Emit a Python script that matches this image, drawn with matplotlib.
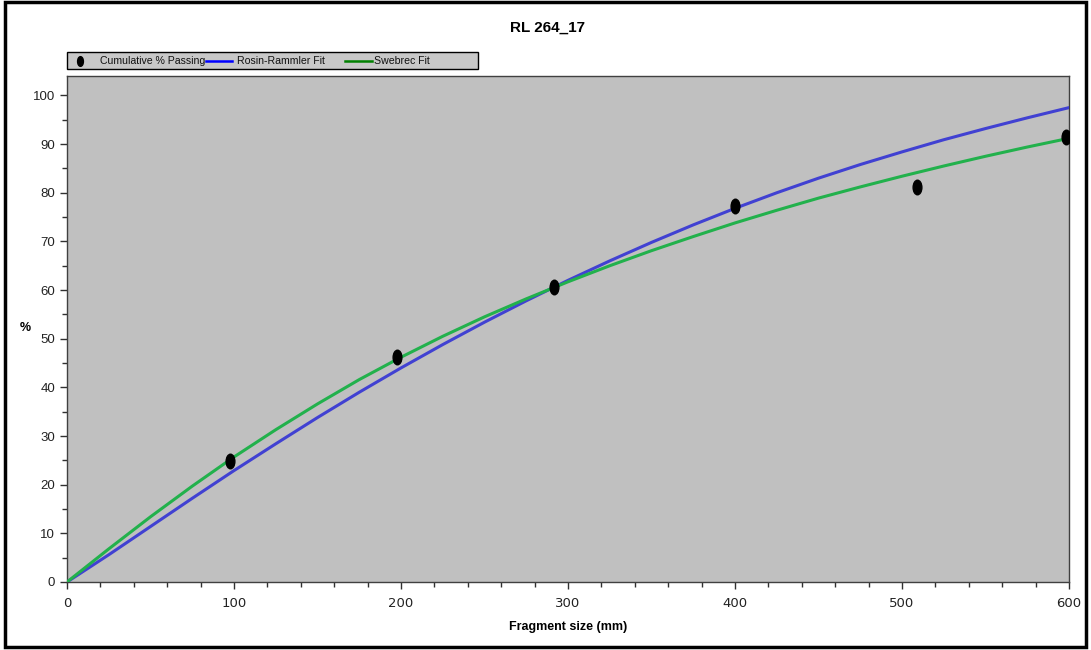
import matplotlib
matplotlib.use("Agg")
import matplotlib.pyplot as plt
from matplotlib.markers import MarkerStyle
from matplotlib.path import Path
from matplotlib.transforms import Affine2D
from matplotlib.patches import Rectangle
from matplotlib.lines import Line2D
from matplotlib.ticker import MultipleLocator

#===============================================================================#
# data                                           #
#===============================================================================#

title = "RL 264_17"

# measured points
sieve_mm = [97.6, 197.6, 291.6, 400, 509, 598]
passing_pct = [24.9, 46.3, 60.6, 77.3, 81.2, 91.5]

# fitted curves, sampled along the drawn lines
curve_mm = [0, 25, 50, 75, 100, 125, 150, 175, 200, 225, 250, 275, 300,
            325, 350, 375, 400, 425, 450, 475, 500, 525, 550, 575, 600]
rosin_pct = [0, 5.6, 11.4, 17.2, 22.9, 28.4, 33.8, 39.0, 44.0, 48.8, 53.4, 57.8, 62.0,
             66.0, 69.8, 73.4, 76.8, 80.0, 83.0, 85.8, 88.4, 90.9, 93.2, 95.4, 97.5]
swebrec_pct = [0, 6.8, 13.4, 19.7, 25.7, 31.3, 36.6, 41.6, 46.2, 50.5, 54.5, 58.2, 61.7,
               65.0, 68.1, 71.0, 73.8, 76.4, 78.9, 81.2, 83.4, 85.5, 87.5, 89.4, 91.2]

series_labels = ['Cumulative % Passing', 'Rosin-Rammler Fit', 'Swebrec Fit']

# style --------------------------------------------------------------------#

plt.rcParams['font.family'] = ['Liberation Sans', 'DejaVu Sans']

W, H = 1091, 650
bg_grey = '#c0c0c0'
rr_blue = '#4141d2'
sw_green = '#22b14c'

# tall ellipse marker like the original
ellipse = MarkerStyle(Path.unit_circle().transformed(Affine2D().scale(0.6, 1.0)))

def fx(px): return px / W
def fy(py): return 1 - py / H

#===============================================================================#
# make plot                                                                     #
#===============================================================================#

fig = plt.figure(figsize=(W/100, H/100), dpi=100)
fig.patch.set_facecolor('white')
ax = fig.add_axes([fx(67), fy(582), 1002/W, 506/H])
ax.set_facecolor(bg_grey)

ax.plot(sieve_mm, passing_pct, linestyle='none', marker=ellipse, markersize=10.5,
        color='black', zorder=4)
ax.plot(curve_mm, rosin_pct, color=rr_blue, lw=2.2, zorder=3, solid_joinstyle='round')
ax.plot(curve_mm, swebrec_pct, color=sw_green, lw=2.2, zorder=3, solid_joinstyle='round')

ax.set_xlim(0, 600)
ax.set_ylim(0, 104)
ax.xaxis.set_major_locator(MultipleLocator(100))
ax.xaxis.set_minor_locator(MultipleLocator(20))
ax.yaxis.set_major_locator(MultipleLocator(10))
ax.yaxis.set_minor_locator(MultipleLocator(5))
ax.tick_params(which='major', direction='out', length=5, width=1, color='#303030',
               labelsize=9.5, labelcolor='#222222')
ax.tick_params(which='minor', direction='out', length=3.5, width=1, color='#303030')
ax.tick_params(axis='x', pad=6)
for lab in ax.get_xticklabels():
    lab.set_family('DejaVu Sans')
    lab.set_fontsize(9.5)
for sp in ax.spines.values():
    sp.set_color('#404040')
    sp.set_linewidth(1)

ax.set_xlabel("Fragment size (mm)", fontsize=9, fontweight='bold', labelpad=8)
fig.text(fx(25), fy(328), "%", fontsize=9, fontweight='bold', ha='center', va='center')
fig.text(fx(548), fy(28), title, fontsize=11, fontweight='bold', ha='center', va='center')

# legend box above the plot ------------------------------------------------#

fig.patches.append(Rectangle((fx(67), fy(69)), 411/W, 17/H, transform=fig.transFigure,
                             facecolor='#c8c8c8', edgecolor='black', linewidth=1))
ymid = fy(60.5)
fig.add_artist(Line2D([fx(80)], [ymid], transform=fig.transFigure, linestyle='none',
                      marker=ellipse, markersize=7, color='black'))
fig.add_artist(Line2D([fx(206), fx(232)], [ymid, ymid], transform=fig.transFigure,
                      color='#0000ff', lw=1.8))
fig.add_artist(Line2D([fx(345), fx(372)], [ymid, ymid], transform=fig.transFigure,
                      color='#008000', lw=1.8))
for x0, lab in zip([100, 237, 374], series_labels):
    fig.text(fx(x0), ymid, lab, fontsize=7.6, ha='left', va='center', color='#111111')

# outer black frame
fig.patches.append(Rectangle((fx(5), 3/H), 1081/W, 645/H, transform=fig.transFigure,
                             fill=False, edgecolor='black', linewidth=2.5))

# save/close----------------------------------------------------------------#

fig.savefig("out.png", dpi=100)
plt.close(fig)
